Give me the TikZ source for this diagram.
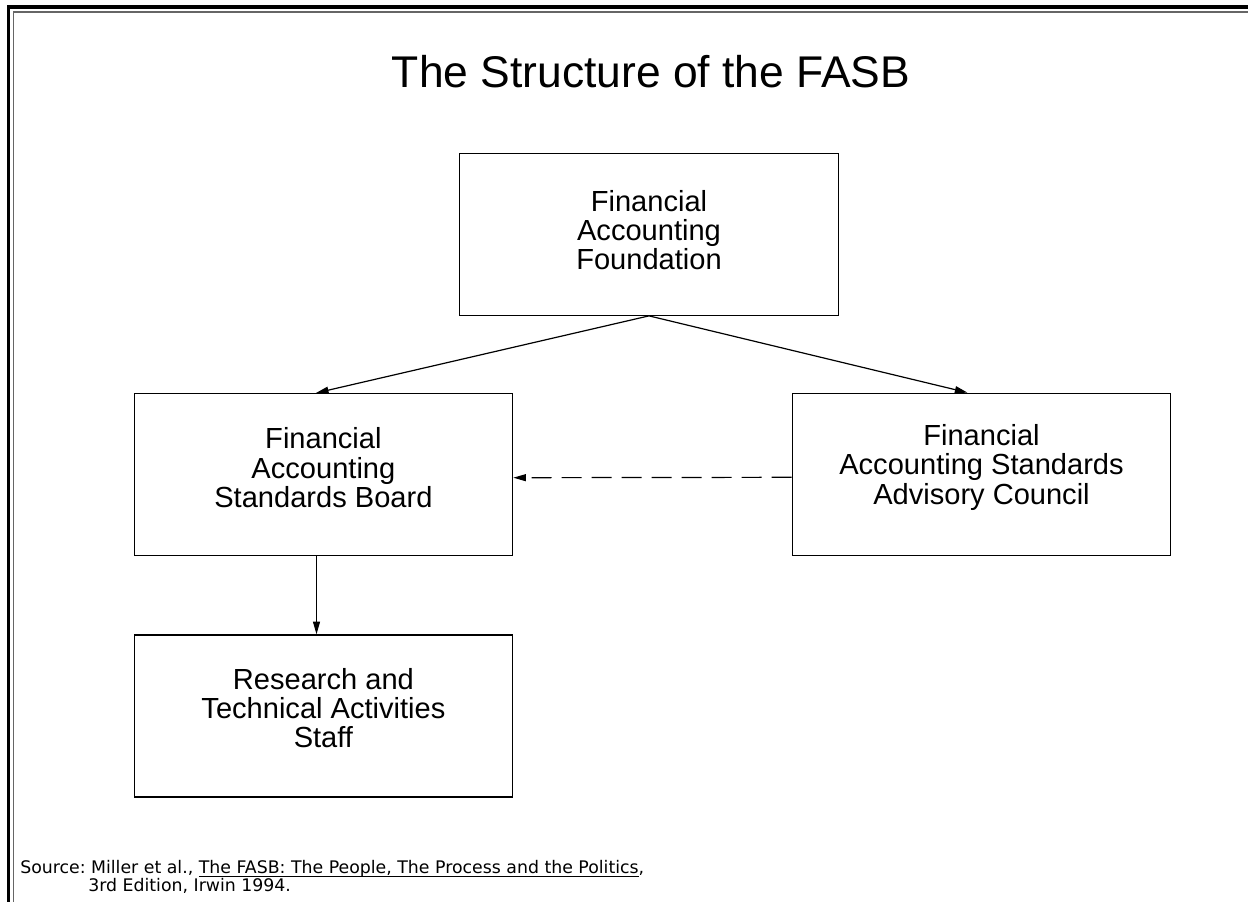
\documentclass[tikz,border=0pt]{standalone}
\usepackage{fontspec}
\setmainfont{Liberation Sans}
\newfontfamily\srcfont{DejaVu Sans}
\usetikzlibrary{arrows.meta,calc}

% underline set close to the baseline, ending with the underlined words
\newcommand\srcul[1]{\setbox0\hbox{#1}\rlap{\rule[-3pt]{\wd0}{0.6pt}}\box0}

\tikzset{
  orgbox/.style={draw=black, line width=1pt, minimum width=283.8pt,
    minimum height=121.5pt, inner sep=0pt},
  orgtext/.style={align=center, inner sep=0pt,
    font=\fontsize{21.8pt}{22pt}\selectfont},
  link/.style={line width=0.9pt, -{Triangle[length=9.5pt,width=5.2pt]}},
  advice/.style={link, dash pattern=on 15pt off 7.5pt},
  srcnote/.style={anchor=base west, inner sep=0pt,
    font=\srcfont\frenchspacing\fontsize{13pt}{14pt}\selectfont},
}

\begin{document}
\begin{tikzpicture}[x=0.75pt, y=-0.75pt]
  \useasboundingbox (0,0) rectangle (1248,902);
  \fill[white] (0,0) rectangle (1248,902);

  % page frame (left and top edges)
  \draw[line width=2.3pt, black] (8.5,902) -- (8.5,7) -- (1248,7);
  \draw[line width=1.4pt, black!60] (13.5,902) -- (13.5,12) -- (1248,12);

  % title
  \node[anchor=base, inner sep=0pt, font=\fontsize{33.3pt}{36pt}\selectfont]
    (title) at (651,88) {The Structure of the FASB};

  % organisation boxes
  \node[orgbox] (faf)   at (649,234.2) {};
  \node[orgbox] (fasb)  at (323.4,474.7) {};
  \node[orgbox] (fasac) at (981.5,474.3) {};
  \node[orgbox] (rtas)  at (323.4,716) {};

  % box captions, set slightly above each box centre
  \node[orgtext] (faft)   at ($(faf.center)+(0,-4)$)   {Financial\\Accounting\\Foundation};
  \node[orgtext] (fasbt)  at ($(fasb.center)+(0,-7)$)  {Financial\\Accounting\\Standards Board};
  \node[orgtext] (fasact) at ($(fasac.center)+(0,-7)$) {Financial\\Accounting Standards\\Advisory Council};
  \node[orgtext] (rtast)  at ($(rtas.center)+(0,-8)$)  {Research and\\Technical Activities\\Staff};

  % reporting lines
  \draw[link] (faf.south) -- ($(fasb.north)+(-7.5,0)$);
  \draw[link] (faf.south) -- ($(fasac.north)+(-14,0)$);
  \draw[link] ($(fasb.south)+(-6.9,0)$) -- ($(rtas.north)+(-6.9,0)$);
  \draw[advice] ($(fasac.west)+(0,3)$) -- ($(fasb.east)+(0,3)$);

  % source note
  \node[srcnote] (src1) at (20,873)
    {Source: Miller et al., \srcul{The FASB: The People, The Process and the Politics},};
  \node[srcnote] (src2) at (88,891) {3rd Edition, Irwin 1994.};
\end{tikzpicture}
\end{document}
